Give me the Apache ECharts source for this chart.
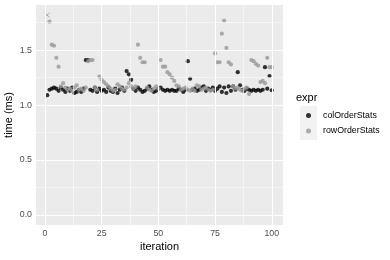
<!DOCTYPE html>
<html>
<head>
<meta charset="utf-8">
<script src="https://cdn.jsdelivr.net/npm/echarts@6/dist/echarts.min.js"></script>
<style>html,body{margin:0;padding:0;background:#fff}#c{width:390px;height:260px}</style>
</head>
<body>
<div id="c"></div>
<script>
var seriesNames = ['colOrderStats', 'rowOrderStats'];
var colOrderStats = [1.09,1.14,1.15,1.16,1.15,1.13,1.16,1.14,1.12,1.15,1.13,1.16,1.11,1.12,1.14,1.12,1.15,1.41,1.41,1.14,
1.13,1.16,1.12,1.15,1.13,1.14,1.12,1.16,1.13,1.12,1.15,1.11,1.14,1.16,1.13,1.31,1.28,1.23,1.15,1.13,
1.16,1.14,1.12,1.13,1.15,1.17,1.14,1.12,1.13,1.15,1.16,1.14,1.13,1.14,1.13,1.14,1.13,1.13,1.15,1.14,
1.12,1.14,1.40,1.24,1.14,1.15,1.13,1.14,1.16,1.17,1.13,1.15,1.14,1.16,1.13,1.15,1.17,1.12,1.16,1.11,
1.17,1.13,1.17,1.14,1.30,1.18,1.14,1.13,1.15,1.14,1.13,1.14,1.13,1.14,1.13,1.14,1.345,1.15,1.265,1.135];
var rowOrderStats = [1.82,1.76,1.55,1.54,1.43,1.35,1.17,1.20,1.16,1.14,1.15,1.13,1.16,1.18,1.14,1.15,1.13,1.16,1.40,1.41,
1.41,1.16,1.14,1.26,1.23,1.21,1.19,1.17,1.15,1.13,1.14,1.19,1.17,1.15,1.14,1.16,1.20,1.17,1.15,1.17,
1.55,1.43,1.39,1.39,1.16,1.14,1.13,1.15,1.17,1.15,1.41,1.35,1.35,1.30,1.28,1.25,1.22,1.18,1.17,1.14,
1.15,1.16,1.14,1.13,1.15,1.13,1.18,1.17,1.14,1.15,1.16,1.14,1.13,1.14,1.47,1.39,1.39,1.65,1.77,1.52,
1.39,1.37,1.17,1.15,1.16,1.14,1.13,1.15,1.16,1.10,1.41,1.40,1.375,1.36,1.21,1.22,1.20,1.43,1.345,1.345];
var crossPoints = [1];
var xTicks = [0, 25, 50, 75, 100];
var xMinor = [12.5, 37.5, 62.5, 87.5];
var yTicks = [0, 0.5, 1.0, 1.5];
var yMinor = [0.25, 0.75, 1.25, 1.75];
var colors = ['#000000', '#999999'];

function pts(arr, color) {
  return arr.map(function (v, i) {
    var it = i + 1;
    if (color !== colors[0] && crossPoints.indexOf(it) >= 0) {
      return { value: [it, v], symbol: 'path://M0,0L10,10M10,0L0,10', symbolSize: 5,
        itemStyle: { color: 'none', borderColor: color, borderWidth: 1 } };
    }
    return [it, v];
  });
}
var lines = [];
xTicks.forEach(function (v) { lines.push({ xAxis: v, lineStyle: { width: 1.1 } }); });
xMinor.forEach(function (v) { lines.push({ xAxis: v, lineStyle: { width: 0.5 } }); });
yTicks.forEach(function (v) { lines.push({ yAxis: v, lineStyle: { width: 1.1 } }); });
yMinor.forEach(function (v) { lines.push({ yAxis: v, lineStyle: { width: 0.5 } }); });

var chart = echarts.init(document.getElementById('c'), null, { renderer: 'canvas' });
var font = 'Liberation Sans, Arial, sans-serif';
chart.setOption({
  animation: false,
  textStyle: { fontFamily: font },
  title: { text: 'expr', left: 296, top: 92, padding: 0,
    textStyle: { fontSize: 11, fontWeight: 'normal', color: '#000', fontFamily: font } },
  grid: { left: 36, right: 107, top: 5, bottom: 35, show: true, backgroundColor: '#EBEBEB', borderWidth: 0,
    containLabel: false, outerBoundsMode: 'none' },
  xAxis: {
    type: 'value', min: -3.95, max: 104.95,
    name: 'iteration', nameLocation: 'middle', nameGap: 16, nameMoveOverlap: false,
    nameTextStyle: { fontSize: 11, color: '#000', fontFamily: font },
    axisLine: { show: false },
    splitLine: { show: false },
    axisTick: { show: true, customValues: xTicks, length: 2.5, lineStyle: { color: '#333333', width: 1 } },
    axisLabel: { customValues: xTicks, fontSize: 8.8, color: '#4D4D4D', margin: 4, fontFamily: font }
  },
  yAxis: {
    type: 'value', min: -0.091, max: 1.911,
    name: 'time (ms)', nameLocation: 'middle', nameGap: 22, nameMoveOverlap: false,
    nameTextStyle: { fontSize: 11, color: '#000', fontFamily: font },
    axisLine: { show: false },
    splitLine: { show: false },
    axisTick: { show: true, customValues: yTicks, length: 2.5, lineStyle: { color: '#333333', width: 1 } },
    axisLabel: { customValues: yTicks, fontSize: 8.8, color: '#4D4D4D', margin: 4, fontFamily: font,
      formatter: function (v) { return v.toFixed(1); } }
  },
  legend: {
    orient: 'vertical', left: 306, top: 111, itemWidth: 5, itemHeight: 5, itemGap: 6.5,
    icon: 'circle', data: seriesNames, padding: 0,
    textStyle: { fontSize: 8.8, color: '#000', padding: [0, 0, 0, 7], fontFamily: font }
  },
  graphic: [
    { type: 'rect', left: 300, top: 106, shape: { width: 17, height: 17 }, style: { fill: '#F2F2F2' }, z: -1 },
    { type: 'rect', left: 300, top: 123, shape: { width: 17, height: 17 }, style: { fill: '#F2F2F2' }, z: -1 }
  ],
  series: [
    { type: 'scatter', name: '_grid', data: [], z: 1, silent: true,
      markLine: { silent: true, symbol: 'none', label: { show: false }, animation: false,
        lineStyle: { color: '#FFFFFF', type: 'solid' }, data: lines } },
    { type: 'scatter', name: seriesNames[0], data: pts(colOrderStats, colors[0]), symbolSize: 4.2,
      itemStyle: { color: colors[0] }, z: 3 },
    { type: 'scatter', name: seriesNames[1], data: pts(rowOrderStats, colors[1]), symbolSize: 4.2,
      itemStyle: { color: colors[1] }, z: 3 }
  ]
});
</script>
</body>
</html>
